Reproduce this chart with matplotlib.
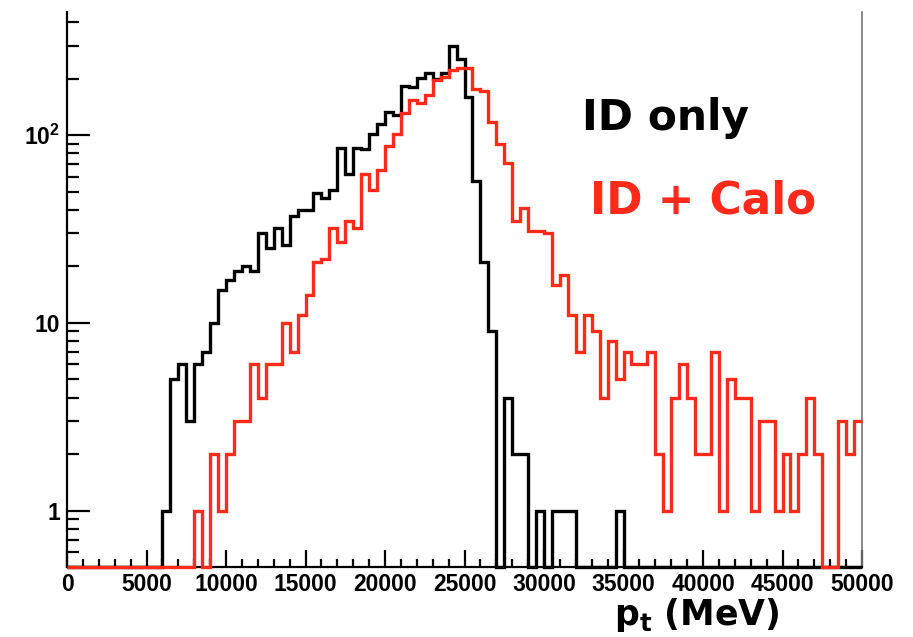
import numpy as np
import matplotlib
matplotlib.use("Agg")
import matplotlib.pyplot as plt

# 100 bins of 500 MeV from 0 to 50000
edges = np.arange(0, 50001, 500)

id_only = [0, 0, 0, 0, 0, 0, 0, 0, 0, 0, 0, 0,
           1, 5, 6, 3, 6, 7, 10, 15, 17, 19, 20, 19, 30, 25, 32, 26, 37, 40,
           40, 49, 46, 51, 85, 62, 85, 84, 101, 115, 133, 128, 183, 180, 201, 215,
           200, 215, 298, 254, 160, 57, 21, 9, 0, 4, 2, 2, 0, 1, 0, 1, 1, 1,
           0, 0, 0, 0, 0, 1,
           0, 0, 0, 0, 0, 0, 0, 0, 0, 0, 0, 0, 0, 0, 0,
           0, 0, 0, 0, 0, 0, 0, 0, 0, 0, 0, 0, 0, 0, 0]

id_calo = [0, 0, 0, 0, 0, 0, 0, 0, 0, 0, 0, 0, 0, 0, 0, 0,
           1, 0, 2, 1, 2, 3, 3, 6, 4, 6, 6, 10, 7, 11, 14, 21, 22, 32, 27, 35,
           32, 62, 51, 65, 88, 102, 131, 154, 148, 163, 196, 203, 222, 227, 227,
           177, 172, 118, 90, 71, 35, 41, 31, 31, 30, 16, 18, 11, 7, 11, 9, 4,
           8, 5, 7, 6, 6, 7, 2, 1, 4, 6, 4, 2, 2, 7, 1, 5, 4, 4, 1, 3, 3, 1,
           2, 1, 2, 4, 2, 0, 0, 3, 2, 3]

ymin, ymax = 0.5, 453
red = "#ff2a1a"

fig = plt.figure(figsize=(9.13, 6.37), dpi=100)
ax = fig.add_axes([67 / 913, 70 / 637, 795 / 913, 555 / 637])

for vals, col in [(id_only, "black"), (id_calo, red)]:
    v = np.array(vals, dtype=float)
    v = np.where(v > 0, v, ymin)
    ax.stairs(v, edges, baseline=None, color=col, lw=2.4, clip_on=False,
              zorder=3)

ax.set_yscale("log")
ax.set_xlim(0, 50000)
ax.set_ylim(ymin, ymax)

ax.spines["top"].set_visible(False)
ax.spines["right"].set_color("#777777")
ax.spines["right"].set_linewidth(1.2)
ax.spines["left"].set_linewidth(1.6)
ax.spines["bottom"].set_linewidth(1.6)

ax.set_xticks(np.arange(0, 50001, 5000))
ax.set_xticks(np.arange(0, 50001, 1000), minor=True)
ax.set_xticklabels([str(t) for t in range(0, 50001, 5000)])
ax.set_yticks([1, 10, 100])
ax.set_yticklabels(["1", "10", r"$\mathregular{10^2}$"])
ax.yaxis.set_minor_locator(matplotlib.ticker.LogLocator(base=10, subs=np.arange(2, 10)))
ax.yaxis.set_minor_formatter(matplotlib.ticker.NullFormatter())

ax.tick_params(axis="both", which="both", direction="in", color="black",
               width=1.6, labelsize=16.5)
ax.tick_params(axis="y", which="major", length=16.5, pad=5)
ax.tick_params(axis="y", which="minor", length=8.5)
ax.tick_params(axis="x", which="major", length=12, pad=4)
ax.tick_params(axis="x", which="minor", length=6)
ax.tick_params(right=False, top=False, which="both")
for lab in ax.get_xticklabels() + ax.get_yticklabels():
    lab.set_fontfamily("Liberation Sans")
    lab.set_fontweight("bold")

fig.text(582 / 913, 1 - 118 / 637, "ID only", fontsize=30.5, fontweight="bold",
         family="DejaVu Sans", color="black", va="center", ha="left")
fig.text(590 / 913, 1 - 201 / 637, "ID + Calo", fontsize=31.5, fontweight="bold",
         family="DejaVu Sans", color=red, va="center", ha="left")
fig.text(614 / 913, 1 - 596 / 637, r"$\mathregular{p_t}$ (MeV)", fontsize=25,
         fontweight="bold", family="DejaVu Sans", color="black",
         va="top", ha="left")

fig.savefig("out.png", dpi=100)
